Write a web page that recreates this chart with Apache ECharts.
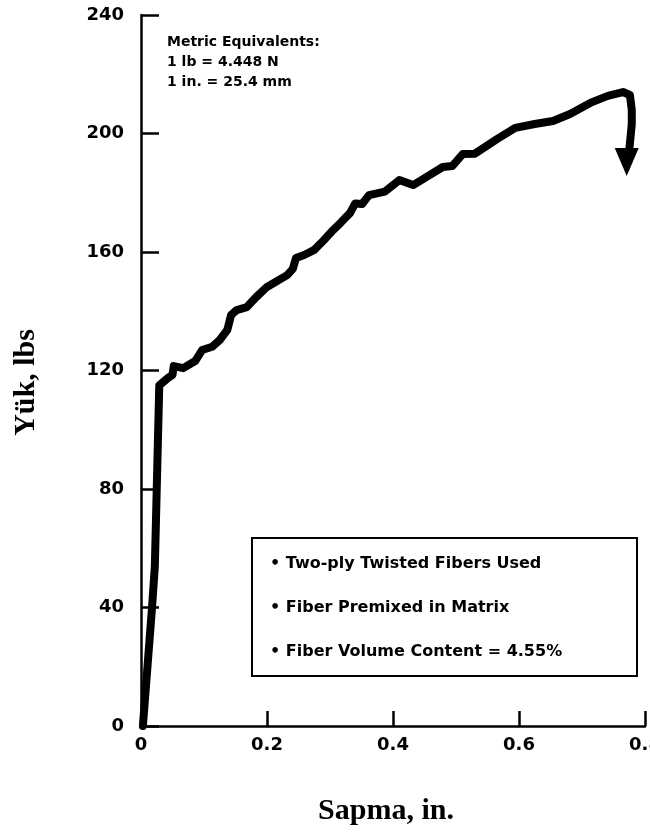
<!DOCTYPE html>
<html lang="tr">
<head>
    <meta charset="UTF-8">
    <title>Yük - Sapma</title>
    <script src="https://cdnjs.cloudflare.com/ajax/libs/echarts/6.0.0/echarts.min.js"></script>
    <style>
        html, body { margin: 0; padding: 0; background: #fff; }
        #chart { width: 650px; height: 835px; }
    </style>
</head>
<body>
    <div id="chart"></div>
    <script>
        // deflection (in.) and load (lbs)
        const sapma = [0.003, 0.0175, 0.022, 0.029, 0.043, 0.05, 0.052, 0.067, 0.086, 0.097,
            0.113, 0.125, 0.137, 0.143, 0.152, 0.168, 0.183, 0.2, 0.232, 0.241,
            0.246, 0.259, 0.275, 0.289, 0.305, 0.318, 0.332, 0.34, 0.351, 0.362,
            0.387, 0.41, 0.432, 0.456, 0.479, 0.494, 0.511, 0.53, 0.565, 0.594,
            0.625, 0.654, 0.681, 0.716, 0.741, 0.765, 0.776, 0.779, 0.779, 0.775, 0.771];
        const yuk = [0, 40, 54, 115, 117.5, 118.5, 121.5, 120.8, 123.2, 126.9,
            128, 130.3, 133.7, 138.7, 140.4, 141.4, 144.8, 148.2, 152.2, 154.3,
            158, 159, 160.7, 163.7, 167.4, 170.1, 173.2, 176.4, 176.2, 179.2,
            180.4, 184.3, 182.6, 185.7, 188.7, 189, 193.1, 193.2, 198.1, 201.9,
            203.2, 204.2, 206.6, 210.6, 212.7, 214, 213, 207.9, 203.2, 194.4, 190.4];
        // arrow head at the end of the curve (failure)
        const arrowX = [0.771];
        const arrowY = [190.4];
        const xTicks = ['0', '0.2', '0.4', '0.6', '0.8'];

        const notes = ['Metric Equivalents:', '1 lb = 4.448 N', '1 in. = 25.4 mm'];
        const boxLines = ['\u2022 Two-ply Twisted Fibers Used', '\u2022 Fiber Premixed in Matrix', '\u2022 Fiber Volume Content = 4.55%'];

        const sans = 'DejaVu Sans';
        const chart = echarts.init(document.getElementById('chart'));

        const graphics = [];
        notes.forEach((t, i) => {
            graphics.push({
                type: 'text', left: 167, top: 35 + i * 20,
                style: { text: t, font: 'bold 14px ' + sans, fill: '#000' }
            });
        });
        graphics.push({
            type: 'rect', left: 251, top: 537,
            shape: { width: 385, height: 138 },
            style: { fill: '#fff', stroke: '#000', lineWidth: 2 }
        });
        boxLines.forEach((t, i) => {
            graphics.push({
                type: 'text', left: 270, top: 556 + i * 44,
                style: { text: t, font: 'bold 16px ' + sans, fill: '#000' }
            });
        });

        const axisCommon = {
            axisLine: { show: true, lineStyle: { color: '#000', width: 2.5 } },
            axisTick: { show: true, inside: true, lineStyle: { color: '#000', width: 2.5 } },
            splitLine: { show: false },
            nameLocation: 'middle'
        };
        const nameFont = { fontFamily: 'Liberation Serif', fontWeight: 'bold', fontSize: 30, color: '#000' };

        chart.setOption({
            animation: false,
            backgroundColor: '#fff',
            grid: { left: 141, right: 5, top: 15, bottom: 109, outerBoundsMode: 'none' },
            xAxis: Object.assign({}, axisCommon, {
                type: 'value', min: 0, max: 0.8, interval: 0.2,
                name: 'Sapma, in.', nameGap: 70,
                nameTextStyle: Object.assign({ padding: [0, 14, 0, 0] }, nameFont),
                axisTick: Object.assign({}, axisCommon.axisTick, { length: 15 }),
                axisLabel: {
                    margin: 10, color: '#000', fontFamily: sans, fontWeight: 'bold', fontSize: 18,
                    formatter: (v) => xTicks[Math.round(v / 0.2)]
                }
            }),
            yAxis: Object.assign({}, axisCommon, {
                type: 'value', min: 0, max: 240, interval: 40,
                name: 'Yük, lbs', nameGap: 100,
                nameTextStyle: Object.assign({ padding: [0, 24, 0, 0] }, nameFont),
                axisTick: Object.assign({}, axisCommon.axisTick, { length: 18 }),
                axisLabel: { margin: 17, color: '#000', fontFamily: sans, fontWeight: 'bold', fontSize: 18 }
            }),
            graphic: graphics,
            series: [
                {
                    type: 'line',
                    data: sapma.map((x, i) => [x, yuk[i]]),
                    symbol: 'none',
                    lineStyle: { color: '#000', width: 8, cap: 'round', join: 'round' },
                    z: 5
                },
                {
                    type: 'scatter',
                    data: arrowX.map((x, i) => [x, arrowY[i]]),
                    symbol: 'triangle',
                    symbolRotate: 180,
                    symbolSize: [24, 28],
                    itemStyle: { color: '#000', opacity: 1 },
                    z: 6
                }
            ]
        });
    </script>
</body>
</html>
